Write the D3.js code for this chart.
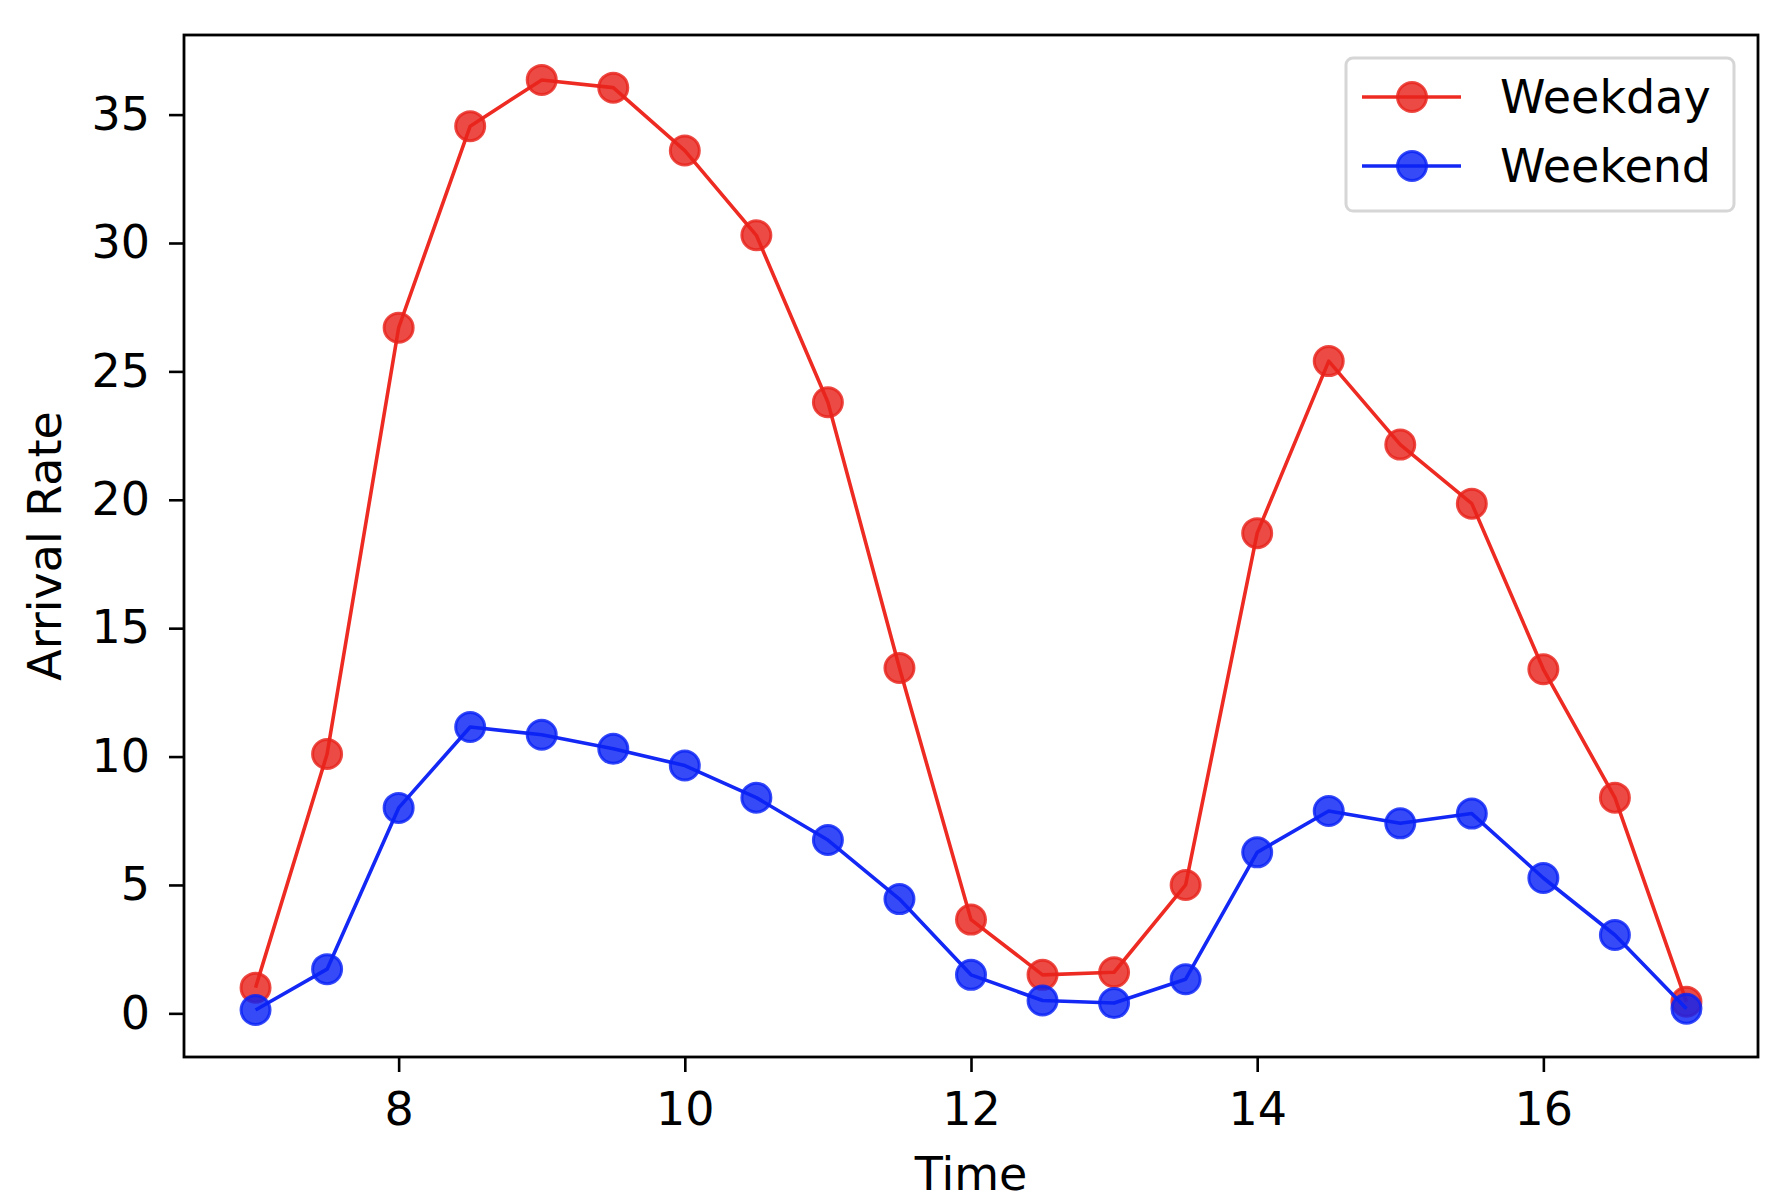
<!DOCTYPE html>
<html>
<head>
<meta charset="utf-8">
<script src="https://cdn.jsdelivr.net/npm/d3@7"></script>
<style>
body { margin: 0; background: #fff; }
text { font-family: "DejaVu Sans", sans-serif; fill: #000; }
</style>
</head>
<body>
<script>
/* arrival rate chart */

var times = [7, 7.5, 8, 8.5, 9, 9.5, 10, 10.5, 11, 11.5, 12, 12.5, 13, 13.5, 14, 14.5, 15, 15.5, 16, 16.5, 17];
var weekday = [1.0, 10.1, 26.7, 34.55, 36.35, 36.05, 33.6, 30.3, 23.8, 13.45, 3.65, 1.5, 1.6, 5.0, 18.7, 25.4, 22.15, 19.85, 13.4, 8.4, 0.45];
var weekend = [0.13, 1.72, 8.0, 11.15, 10.85, 10.3, 9.65, 8.4, 6.75, 4.45, 1.5, 0.5, 0.4, 1.33, 6.27, 7.88, 7.4, 7.78, 5.27, 3.05, 0.18];
var xTicks = [8, 10, 12, 14, 16];
var yTicks = [0, 5, 10, 15, 20, 25, 30, 35];
var seriesNames = ["Weekday", "Weekend"];

var lineColors = ["#ee2b22", "#1428f5"];
var dotColors = ["#e8231c", "#0a22f5"];

var W = 1780, H = 1194;
// plot box (note: "top" is reserved on window, so use p* names)
var pLeft = 184, pRight = 1758, pTop = 35, pBottom = 1057;

var svg = d3.select("body").append("svg")
    .attr("width", W)
    .attr("height", H);

var x = d3.scaleLinear().domain([6.5, 17.5]).range([pLeft, pRight]);
var y = d3.scaleLinear().domain([-1.7, 38.1]).range([pBottom, pTop]);

// axes
var xAxis = svg.append("g")
    .attr("transform", "translate(0," + pBottom + ")")
    .call(d3.axisBottom(x).tickValues(xTicks).tickSize(15).tickPadding(20).tickFormat(d3.format("d")));
var yAxis = svg.append("g")
    .attr("transform", "translate(" + pLeft + ",0)")
    .call(d3.axisLeft(y).tickValues(yTicks).tickSize(15).tickPadding(19).tickFormat(d3.format("d")));

[xAxis, yAxis].forEach(function(g){
    g.select(".domain").remove();
    g.selectAll(".tick line").attr("stroke", "#000").attr("stroke-width", 2.6);
    g.selectAll(".tick text").attr("font-size", 46).attr("font-family", "DejaVu Sans");
});

// frame
svg.append("rect")
    .attr("x", pLeft)
    .attr("y", pTop)
    .attr("width", pRight - pLeft)
    .attr("height", pBottom - pTop)
    .attr("fill", "none")
    .attr("stroke", "#000")
    .attr("stroke-width", 2.8);

// series
var series = [weekday, weekend];
var line = d3.line()
    .x(function(d, i){ return x(times[i]); })
    .y(function(d){ return y(d); });

series.forEach(function(vals, s){
    svg.append("path")
        .datum(vals)
        .attr("d", line)
        .attr("fill", "none")
        .attr("stroke", lineColors[s])
        .attr("stroke-width", 3.6)
        .attr("stroke-linejoin", "round");

    svg.selectAll(".dot" + s)
        .data(vals)
        .enter()
        .append("circle")
        .attr("class", "dot" + s)
        .attr("cx", function(d, i){ return x(times[i]); })
        .attr("cy", function(d){ return y(d); })
        .attr("r", 14.5)
        .attr("fill", dotColors[s])
        .attr("fill-opacity", 0.82)
        .attr("stroke", dotColors[s])
        .attr("stroke-opacity", 0.82)
        .attr("stroke-width", 3);
});

// axis labels
svg.append("text")
    .attr("x", (pLeft + pRight) / 2)
    .attr("y", 1190)
    .attr("text-anchor", "middle")
    .attr("font-size", 46)
    .text("Time");

svg.append("text")
    .attr("transform", "translate(61," + ((pTop + pBottom) / 2) + ") rotate(-90)")
    .attr("text-anchor", "middle")
    .attr("font-size", 46)
    .text("Arrival Rate");

// legend
var leg = svg.append("g");
leg.append("rect")
    .attr("x", 1346)
    .attr("y", 58)
    .attr("width", 388)
    .attr("height", 153)
    .attr("rx", 7)
    .attr("fill", "#fff")
    .attr("fill-opacity", 0.8)
    .attr("stroke", "#d6d6d6")
    .attr("stroke-width", 3);

seriesNames.forEach(function(name, s){
    var ly = 97 + s * 69;
    leg.append("line")
        .attr("x1", 1362).attr("x2", 1461)
        .attr("y1", ly).attr("y2", ly)
        .attr("stroke", lineColors[s])
        .attr("stroke-width", 3.6);
    leg.append("circle")
        .attr("cx", 1412)
        .attr("cy", ly)
        .attr("r", 14.5)
        .attr("fill", dotColors[s])
        .attr("fill-opacity", 0.82)
        .attr("stroke", dotColors[s])
        .attr("stroke-opacity", 0.82)
        .attr("stroke-width", 3);
    leg.append("text")
        .attr("x", 1500)
        .attr("y", ly + 16)
        .attr("font-size", 46)
        .text(name);
});
</script>
</body>
</html>
